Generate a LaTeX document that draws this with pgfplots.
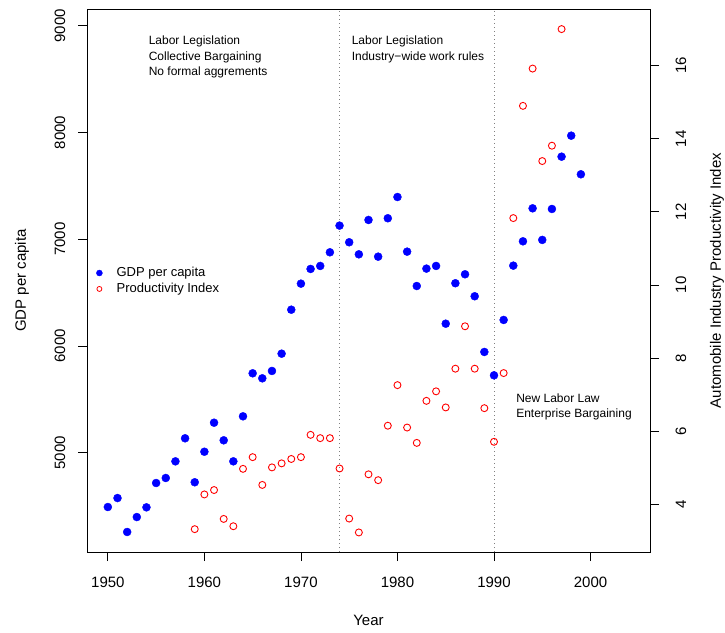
\documentclass[border=0pt]{standalone}
\usepackage{fontspec}
\setmainfont{Liberation Sans}
\usepackage{pgfplots}
\pgfplotsset{compat=1.18}
\usepackage{pgfplotstable}

\pgfplotstableread{
year gdp
1950 4491
1951 4575
1952 4257
1953 4397
1954 4488
1955 4716
1956 4763
1957 4919
1958 5135
1959 4723
1960 5009
1961 5281
1962 5116
1963 4919
1964 5341
1965 5744
1966 5697
1967 5766
1968 5928
1969 6340
1970 6584
1971 6722
1972 6750
1973 6878
1974 7128
1975 6972
1976 6859
1977 7181
1978 6837
1979 7197
1980 7396
1981 6884
1982 6562
1983 6725
1984 6750
1985 6209
1986 6588
1987 6672
1988 6466
1989 5944
1990 5725
1991 6244
1992 6753
1993 6981
1994 7290
1995 6994
1996 7284
1997 7774
1998 7971
1999 7609
}\gdpdata

\pgfplotstableread{
year prod
1959 3.32
1960 4.27
1961 4.39
1962 3.60
1963 3.40
1964 4.97
1965 5.29
1966 4.53
1967 5.01
1968 5.12
1969 5.24
1970 5.29
1971 5.90
1972 5.81
1973 5.81
1974 4.98
1975 3.61
1976 3.23
1977 4.82
1978 4.66
1979 6.15
1980 7.26
1981 6.10
1982 5.68
1983 6.83
1984 7.09
1985 6.65
1986 7.71
1987 8.87
1988 7.71
1989 6.63
1990 5.71
1991 7.59
1992 11.83
1993 14.90
1994 15.92
1995 13.39
1996 13.81
1997 17.00
}\proddata

\definecolor{rblue}{RGB}{0,0,255}
\definecolor{rred}{RGB}{255,0,0}

\begin{document}
\begin{tikzpicture}
\useasboundingbox (0pt,0pt) rectangle (725pt,632pt);
\pgfplotsset{
  common/.style={
    at={(87pt,80pt)}, anchor=south west,
    scale only axis, width=563pt, height=543pt,
    xmin=1947.84, xmax=2006.16,
    clip=false,
    tick align=outside,
    major tick length=9pt,
    /pgf/number format/assume math mode=true,
    /pgf/number format/1000 sep={},
    tick label style={font=\fontsize{15}{18}\selectfont},
    label style={font=\fontsize{15}{18}\selectfont},
    axis line style={black, line width=0.8pt},
    tick style={black, line width=0.8pt},
  }
}
\begin{axis}[common,
  ymin=4069.4, ymax=9158,
  xtick={1950,1960,...,2000},
  ytick={5000,6000,...,9000},
  xtick pos=bottom, ytick pos=left,
  xticklabel style={anchor=center, yshift=-21pt},
  yticklabel style={xshift=-18pt, rotate=90, anchor=center},
  xlabel={Year}, ylabel={GDP per capita},
  xlabel style={at={(axis description cs:0.5,-0.1252)}, anchor=center},
  ylabel style={at={(axis description cs:-0.1155,0.5)}, anchor=center},
]
\addplot[gray, line width=0.8pt, dash pattern=on 1pt off 3pt] coordinates {(1974,4069.4) (1974,9158)};
\addplot[gray, line width=0.8pt, dash pattern=on 1pt off 3pt] coordinates {(1990,4069.4) (1990,9158)};
\addplot[only marks, mark=*, mark size=4pt, color=rblue, mark options={fill=rblue, draw=rblue}] table[x=year, y=gdp] {\gdpdata};
\node[anchor=west, inner sep=0pt, font=\fontsize{12}{14}\selectfont] at (axis cs:1954.22,8858) {Labor Legislation};
\node[anchor=west, inner sep=0pt, font=\fontsize{12}{14}\selectfont] at (axis cs:1954.22,8708) {Collective Bargaining};
\node[anchor=west, inner sep=0pt, font=\fontsize{12}{14}\selectfont] at (axis cs:1954.22,8561) {No formal aggrements};
\node[anchor=west, inner sep=0pt, font=\fontsize{12}{14}\selectfont] at (axis cs:1975.25,8858) {Labor Legislation};
\node[anchor=west, inner sep=0pt, font=\fontsize{12}{14}\selectfont] at (axis cs:1975.25,8708) {Industry−wide work rules};
\node[anchor=west, inner sep=0pt, font=\fontsize{12}{14}\selectfont] at (axis cs:1992.29,5515) {New Labor Law};
\node[anchor=west, inner sep=0pt, font=\fontsize{12}{14}\selectfont] at (axis cs:1992.29,5363) {Enterprise Bargaining};
\end{axis}

\begin{axis}[common,
  ymin=2.695, ymax=17.55,
  hide x axis,
  axis y line*=right,
  ytick={4,6,...,16},
  yticklabel style={xshift=22pt, rotate=90, anchor=center},
  ylabel={Automobile Industry Productivity Index},
  ylabel style={at={(axis description cs:1.1190,0.5)}, anchor=center, rotate=0},
  legend style={at={(axis description cs:0.0071,0.4991)}, anchor=west, draw=none, fill=none,
    font=\fontsize{13}{15}\selectfont, row sep=1pt, inner xsep=3pt, inner ysep=0pt},
  legend cell align=left,
  legend image code/.code={\draw[#1] plot coordinates {(5pt,0pt)}; \path (0pt,-3pt) (20pt,3pt);},
]
\addlegendimage{only marks, mark=*, mark size=3pt, color=rblue, mark options={fill=rblue, draw=rblue}}
\addlegendentry{GDP per capita}
\addlegendimage{only marks, mark=o, mark size=2.5pt, color=rred, mark options={draw=rred, line width=0.8pt}}
\addlegendentry{Productivity Index}
\addplot[only marks, mark=o, mark size=3.5pt, color=rred, mark options={draw=rred, line width=0.9pt}, forget plot] table[x=year, y=prod] {\proddata};
\end{axis}
\end{tikzpicture}
\end{document}
